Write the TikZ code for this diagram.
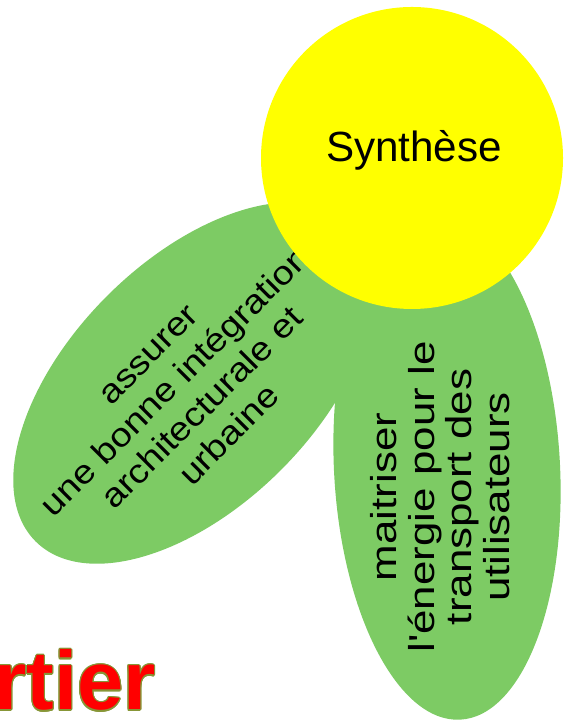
\documentclass[tikz,border=0pt]{standalone}
\usepackage{fontspec}
\usepackage{tikz}
\usepackage{contour}
\usetikzlibrary{positioning}
\newfontfamily\arial{Liberation Sans}
\definecolor{leaf}{RGB}{125,203,100}
\definecolor{sun}{RGB}{255,255,0}
\definecolor{rim}{RGB}{135,150,55}
\contourlength{0.8pt}

\begin{document}
\begin{tikzpicture}[x=0.025cm,y=0.025cm,
	petal/.style={fill=leaf},
	txt/.style={align=center, inner sep=0, font=\arial}]
	\useasboundingbox (0,0) rectangle (564,720);
	\fill [petal, rotate around={45:(194,337)}] (194,337) ellipse [x radius=224, y radius=123];
	\node (0) [txt, rotate=45, xscale=1.14, font=\arial\fontsize{23.6}{27.1}\selectfont] at (190,324) {assurer\\une bonne intégration\\architecturale et\\urbaine};
	\fill [petal, rotate around={3:(447,252)}] (447,252) ellipse [x radius=113, y radius=252];
	\node (1) [txt, rotate=90, xscale=1.22, font=\arial\fontsize{25.6}{26.8}\selectfont] at (440,223) {maitriser\\l'énergie pour le\\transport des\\utilisateurs};
	\fill [sun] (412,562) circle [radius=151];
	\node (2) [txt, anchor=base, font=\arial\fontsize{30}{36}\selectfont] at (414,558) {Synthèse};
	\node (3) [txt, anchor=base west, text=red, font=\arial\bfseries\fontsize{59}{62}\selectfont] at (-6,10) {\contour{rim}{rtier}};
\end{tikzpicture}
\end{document}
